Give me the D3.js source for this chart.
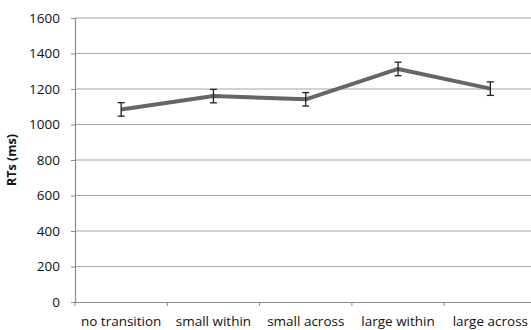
<!DOCTYPE html>
<html><head><meta charset="utf-8">
<script src="https://cdn.jsdelivr.net/npm/d3@7"></script>
<style>body{margin:0;background:#fff}svg{display:block}</style>
</head><body><svg id="c" width="531" height="330"></svg>
<script>
const categories = ["no transition","small within","small across","large within","large across"];
const rtValues = [1085, 1160, 1142, 1313, 1202];
const rtErrors = [38, 38, 38, 38, 38];
const yTicks = [0,200,400,600,800,1000,1200,1400,1600];
const yLabel = "RTs (ms)";

(function(){
const svg = d3.select("#c");
const mLeft = 75, mRight = 536.5, mTop = 18, mBottom = 302;
const x = d3.scaleBand().domain(categories).range([mLeft, mRight]);
const y = d3.scaleLinear().domain([0,1600]).range([mBottom, mTop]);
const font = "'Open Sans', sans-serif";

svg.append("g").selectAll("line").data(yTicks.filter(d=>d>0)).join("line")
  .attr("x1", mLeft).attr("x2", 531).attr("y1", d=>y(d)).attr("y2", d=>y(d))
  .attr("stroke", "#a6a6a6").attr("stroke-width", 1.2);

const ya = svg.append("g").attr("transform", `translate(${mLeft},0)`)
  .call(d3.axisLeft(y).tickValues(yTicks).tickFormat(d3.format("d")).tickSize(4).tickPadding(11));
ya.select(".domain").attr("stroke", "#8c8c8c").attr("stroke-width", 1.2);
ya.selectAll(".tick line").attr("stroke", "#8c8c8c");
ya.selectAll("text").attr("font-family", font).attr("font-size", 13.5).attr("fill", "#111");

const xa = svg.append("g").attr("transform", `translate(0,${mBottom})`)
  .call(d3.axisBottom(x).tickSize(0).tickPadding(14));
xa.select(".domain").attr("stroke", "#8c8c8c").attr("stroke-width", 1.2);
xa.selectAll("text").attr("font-family", font).attr("font-size", 13.5).attr("fill", "#111");
svg.append("g").selectAll("line").data(categories).join("line")
  .attr("x1", d=>x(d)).attr("x2", d=>x(d)).attr("y1", mBottom).attr("y2", mBottom+4)
  .attr("stroke", "#8c8c8c");

svg.append("text").attr("transform", `translate(16,${(mTop+mBottom)/2}) rotate(-90)`)
  .attr("text-anchor", "middle").attr("font-family", font).attr("font-weight", "bold")
  .attr("font-size", 12.5).attr("fill", "#111").text(yLabel);

const cx = d => x(d) + x.bandwidth()/2;
svg.append("path").datum(categories)
  .attr("d", d3.line().x(cx).y((d,i)=>y(rtValues[i])))
  .attr("fill", "none").attr("stroke", "#666").attr("stroke-width", 4).attr("stroke-linejoin", "round");

const eb = svg.append("g").attr("stroke", "#222").attr("stroke-width", 1.3);
categories.forEach((c,i) => {
  const xc = cx(c), hi = y(rtValues[i]+rtErrors[i]), lo = y(rtValues[i]-rtErrors[i]);
  eb.append("line").attr("x1", xc).attr("x2", xc).attr("y1", hi).attr("y2", lo);
  eb.append("line").attr("x1", xc-3.5).attr("x2", xc+3.5).attr("y1", hi).attr("y2", hi);
  eb.append("line").attr("x1", xc-3.5).attr("x2", xc+3.5).attr("y1", lo).attr("y2", lo);
});
})();
</script></body></html>
